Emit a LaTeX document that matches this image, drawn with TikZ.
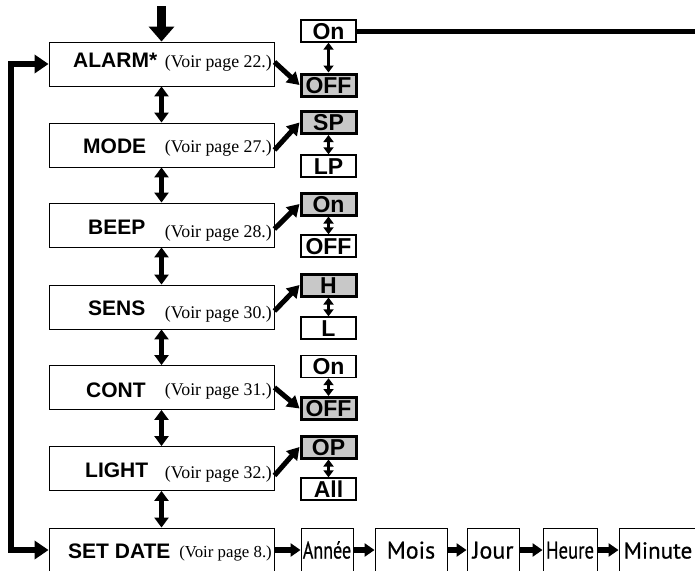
\documentclass[tikz,border=0pt]{standalone}
\usepackage{fontspec}
\setmainfont{Liberation Serif}
\newfontfamily\menufont{Liberation Sans}
\newfontfamily\datefont{PT Sans}[FakeBold=0.6]
\usepackage{graphicx}
\usetikzlibrary{arrows.meta,positioning,calc}
\definecolor{selgray}{HTML}{C8C8C8}

\begin{document}
\begin{tikzpicture}[x=1pt,y=-1pt,
  menubox/.style={rectangle,draw=black,line width=0.9pt,minimum width=225pt,minimum height=44pt,inner sep=0pt},
  menulabel/.style={font=\menufont\bfseries\fontsize{21}{21}\selectfont,inner sep=0pt,anchor=base west},
  pageref/.style={font=\fontsize{17.8}{17.8}\selectfont,inner sep=0pt,anchor=base east},
  optbox/.style={rectangle,draw=black,line width=1.4pt,minimum width=55pt,minimum height=22pt,inner sep=0pt,
    font=\menufont\bfseries\fontsize{23}{23}\selectfont,text height=16.3pt,text depth=0pt},
  optsel/.style={optbox,fill=selgray,line width=3pt},
  datebox/.style={rectangle,draw=black,line width=0.9pt,minimum height=44pt,inner sep=0pt,
    font=\datefont\fontsize{24}{24}\selectfont,text height=17pt,text depth=0pt},
  bigarrow/.style={line width=9pt,-{Triangle[width=25pt,length=15pt]}},
  looparrow/.style={line width=6pt,{Triangle[width=18pt,length=14pt]}-{Triangle[width=18pt,length=14pt]}},
  updown/.style={line width=5pt,{Triangle[width=14pt,length=10pt]}-{Triangle[width=14pt,length=10pt]}},
  optupdown/.style={line width=3pt,{Triangle[width=10pt,length=7pt]}-{Triangle[width=10pt,length=7pt]}},
  diagarrow/.style={line width=5pt,-{Triangle[width=14pt,length=12pt]}},
  datearrow/.style={line width=6pt,-{Triangle[width=13pt,length=10pt]}},
]
  \useasboundingbox (0,0) rectangle (695,570);

  % menu entries
  \node[menubox] (alarm) at (161.5,64) {};
  \node[menulabel] (alarmlab) at (73,67) {ALARM*};
  \node[pageref] (alarmpg) at (272,67) {(Voir page 22.)};
  \node[menubox] (mode) at (161.5,145) {};
  \node[menulabel] (modelab) at (83,153) {MODE};
  \node[pageref] (modepg) at (272,152) {(Voir page 27.)};
  \node[menubox] (beep) at (161.5,225) {};
  \node[menulabel] (beeplab) at (88,234) {BEEP};
  \node[pageref] (beeppg) at (272,237) {(Voir page 28.)};
  \node[menubox] (sens) at (161.5,307) {};
  \node[menulabel] (senslab) at (88,315) {SENS};
  \node[pageref] (senspg) at (272,318) {(Voir page 30.)};
  \node[menubox] (cont) at (161.5,387.5) {};
  \node[menulabel] (contlab) at (86,397) {CONT};
  \node[pageref] (contpg) at (272,395) {(Voir page 31.)};
  \node[menubox] (light) at (161.5,468.5) {};
  \node[menulabel] (lightlab) at (85,477) {LIGHT};
  \node[pageref] (lightpg) at (272,478) {(Voir page 32.)};
  \node[menubox] (setdate) at (161.5,550) {};
  \node[menulabel] (setdatelab) at (68,558) {SET DATE};
  \node[pageref,font=\fontsize{16.8}{16.8}\selectfont] (setdatepg) at (272,557) {(Voir page 8.)};

  % choices
  \node[optbox] (alarmon) at (328.5,31) {On};
  \node[optsel] (alarmoff) at (328.5,85) {OFF};
  \node[optsel] (modesp) at (328.5,122.5) {SP};
  \node[optbox] (modelp) at (328.5,166) {LP};
  \node[optsel] (beepon) at (328.5,204) {On};
  \node[optbox] (beepoff) at (328.5,246) {OFF};
  \node[optsel] (sensh) at (328.5,285) {H};
  \node[optbox] (sensl) at (328.5,328) {L};
  \node[optbox] (conton) at (328.5,366.5) {On};
  \node[optsel] (contoff) at (328.5,408.5) {OFF};
  \node[optsel] (lightop) at (328.5,447) {OP};
  \node[optbox] (lightall) at (328.5,489) {All};

  % date setting
  \node[datebox,minimum width=52pt] (annee) at (327,550) {\scalebox{0.75}[1]{Année}};
  \node[datebox,minimum width=72pt] (mois) at (411,550) {Mois};
  \node[datebox,minimum width=52pt] (jour) at (493,550) {Jour};
  \node[datebox,minimum width=54pt] (heure) at (570,550) {\scalebox{0.78}[1]{Heure}};
  \node[datebox,minimum width=78pt,font=\datefont\fontsize{23}{23}\selectfont] (minute) at (658,550) {Minute};

  \coordinate (entry) at (161.5,6);
  \coordinate (loopdown) at (11,550);
  \coordinate (onend) at (700,31);

  \draw[bigarrow] (entry) -- (alarm.north);
  \draw[looparrow] (alarm.west) -| (loopdown) -- (setdate.west);
  \draw[updown] (alarm.south) -- (mode.north);
  \draw[updown] (mode.south) -- (beep.north);
  \draw[updown] (beep.south) -- (sens.north);
  \draw[updown] (sens.south) -- (cont.north);
  \draw[updown] (cont.south) -- (light.north);
  \draw[updown] (light.south) -- (setdate.north);

  \draw[line width=5pt] (alarmon.east) -- (onend);
  \draw[optupdown] (alarmon.south) -- (alarmoff.north);
  \draw[optupdown] (modesp.south) -- (modelp.north);
  \draw[optupdown] (beepon.south) -- (beepoff.north);
  \draw[optupdown] (sensh.south) -- (sensl.north);
  \draw[optupdown] (conton.south) -- (contoff.north);
  \draw[optupdown] (lightop.south) -- (lightall.north);

  \draw[diagarrow] ($(alarm.east)+(0,-2)$) -- (alarmoff.west);
  \draw[diagarrow] ($(mode.east)+(0,5)$) -- (modesp.west);
  \draw[diagarrow] ($(beep.east)+(0,4)$) -- (beepon.west);
  \draw[diagarrow] ($(sens.east)+(0,4)$) -- (sensh.west);
  \draw[diagarrow] (cont.east) -- (contoff.west);
  \draw[diagarrow] ($(light.east)+(0,7)$) -- (lightop.west);

  \draw[datearrow] (setdate.east) -- (annee.west);
  \draw[datearrow] (annee.east) -- (mois.west);
  \draw[datearrow] (mois.east) -- (jour.west);
  \draw[datearrow] (jour.east) -- (heure.west);
  \draw[datearrow] (heure.east) -- (minute.west);
\end{tikzpicture}
\end{document}
